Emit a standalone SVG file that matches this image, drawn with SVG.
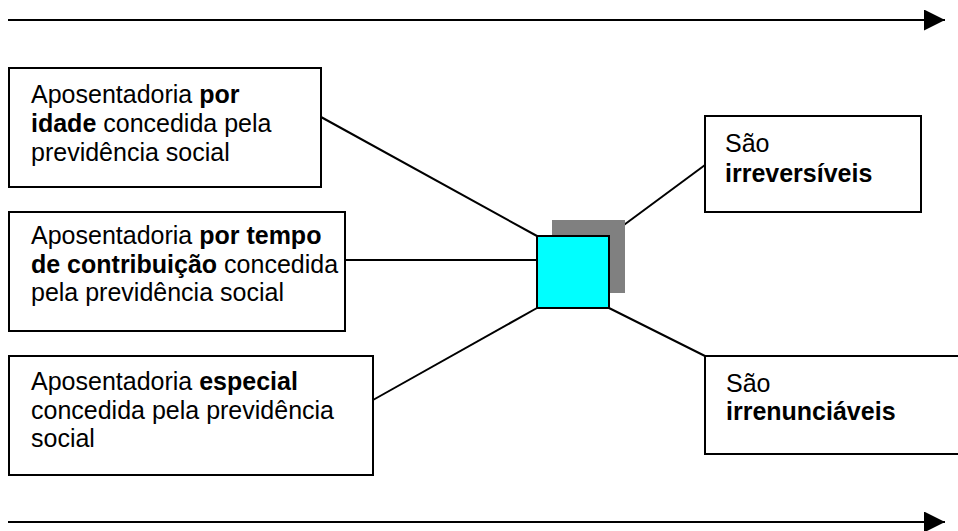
<svg xmlns="http://www.w3.org/2000/svg" width="958" height="531" viewBox="0 0 958 531">
<defs>
<style>
.box{fill:#fff;stroke:#000;stroke-width:2}
.t{font-family:"Liberation Sans",Arial,sans-serif;font-size:25px;fill:#000}
.b{font-weight:bold}
.ln{stroke:#000;stroke-width:2;fill:none}
</style>
<marker id="ah" viewBox="0 0 21 21" refX="21" refY="10.5" markerWidth="21" markerHeight="21" markerUnits="userSpaceOnUse" orient="auto">
<path d="M0,0 L21,10.5 L0,21 Z" fill="#000"/>
</marker>
</defs>
<g id="connectors">
<line class="ln" x1="8" y1="20" x2="945" y2="20" marker-end="url(#ah)"/>
<line class="ln" x1="8" y1="522" x2="945" y2="522" marker-end="url(#ah)"/>
<line class="ln" x1="321" y1="117" x2="537" y2="236"/>
<line class="ln" x1="345" y1="260" x2="537" y2="260"/>
<line class="ln" x1="373" y1="400" x2="537" y2="308"/>
<line class="ln" x1="609" y1="236" x2="705" y2="165"/>
<line class="ln" x1="609" y1="308" x2="705" y2="356"/>
</g>
<g id="center">
<rect x="552" y="220" width="73" height="73" fill="#808080"/>
<rect x="537" y="236" width="72" height="72" fill="#00ffff" stroke="#000" stroke-width="2"/>
</g>
<g id="box1">
<rect class="box" x="9" y="68" width="312" height="119"/>
<text class="t" x="31" y="103">Aposentadoria <tspan class="b">por</tspan></text>
<text class="t" x="31" y="132"><tspan class="b">idade</tspan> concedida pela</text>
<text class="t" x="31" y="161">previdência social</text>
</g>
<g id="box2">
<rect class="box" x="9" y="212" width="336" height="119"/>
<text class="t" x="31" y="244">Aposentadoria <tspan class="b">por tempo</tspan></text>
<text class="t" x="31" y="273"><tspan class="b">de contribuição</tspan> concedida</text>
<text class="t" x="31" y="301">pela previdência social</text>
</g>
<g id="box3">
<rect class="box" x="9" y="356" width="364" height="119"/>
<text class="t" x="31" y="390">Aposentadoria <tspan class="b">especial</tspan></text>
<text class="t" x="31" y="419">concedida pela previdência</text>
<text class="t" x="31" y="447">social</text>
</g>
<g id="box4">
<rect class="box" x="705" y="116" width="216" height="96"/>
<text class="t" x="725" y="152">São</text>
<text class="t b" x="725" y="182">irreversíveis</text>
</g>
<g id="box5">
<rect class="box" x="705" y="356" width="260" height="98"/>
<text class="t" x="726" y="392">São</text>
<text class="t b" x="726" y="420">irrenunciáveis</text>
</g>
</svg>
